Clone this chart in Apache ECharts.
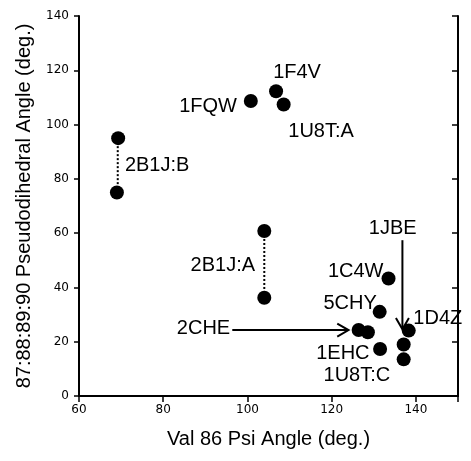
<!DOCTYPE html>
<html>
<head>
<meta charset="utf-8">
<script src="https://cdn.jsdelivr.net/npm/echarts@6/dist/echarts.min.js"></script>
<style>
  html, body { margin: 0; padding: 0; background: #fff; }
  #MainContent { width: 471px; height: 461px; }
</style>
</head>
<body>
<div id="MainContent"></div>
<script>
// points
var pointsX = [69.3, 69.0, 100.8, 106.8, 108.6, 104.0, 104.0, 133.5, 131.4, 126.4, 128.6, 131.5, 138.3, 137.1, 137.1];
var pointsY = [95.0, 75.0, 108.7, 112.3, 107.4, 60.8, 36.2, 43.3, 31.0, 24.3, 23.5, 17.3, 24.1, 19.0, 13.5];

// dotted connectors (2B1J:B and 2B1J:A)
var pairB = [[69.2, 95.0], [69.2, 75.0]];
var pairA = [[104.0, 60.8], [104.0, 36.2]];

// arrows: [x1, y1, x2, y2]
var arrows = [
    [96.4, 24.3, 124.0, 24.3],   // 2CHE
    [136.8, 57.4, 136.8, 24.6]   // 1JBE
];

// annotation text
var labelNames = ['1F4V', '1FQW', '1U8T:A', '2B1J:B', '2B1J:A', '1JBE', '1C4W', '5CHY', '2CHE', '1D4Z', '1EHC', '1U8T:C'];
var labelX = [106.1, 97.5, 109.7, 70.9, 101.8, 134.5, 132.3, 130.7, 95.9, 139.4, 129.0, 133.9];
var labelY = [119.1, 106.8, 97.3, 85.1, 48.2, 61.7, 45.8, 34.1, 24.9, 28.6, 15.7, 7.7];
var labelAlign = ['left', 'right', 'left', 'left', 'right', 'center', 'right', 'right', 'right', 'left', 'right', 'right'];

var FONT = 'Liberation Sans';

function draw() {
    var chart = echarts.init(document.getElementById('MainContent'));

    var pts = pointsX.map(function (x, i) { return [x, pointsY[i]]; });
    var labels = labelNames.map(function (n, i) {
        return { name: n, value: [labelX[i], labelY[i]], label: { align: labelAlign[i] } };
    });

    var axisLine = { show: true, lineStyle: { color: '#000', width: 2 } };
    var tickStyle = { color: '#000', width: 1.5 };

    var option = {
        animation: false,
        backgroundColor: '#fff',
        grid: { left: 79, right: 13, top: 16, bottom: 65 },
        xAxis: [{
            type: 'value', min: 60, max: 150, interval: 20, position: 'bottom',
            name: 'Val 86 Psi Angle (deg.)', nameLocation: 'middle', nameGap: 33,
            nameTextStyle: { fontFamily: FONT, fontSize: 20, color: '#000' },
            axisLine: axisLine,
            axisTick: { show: true, inside: false, length: 5, lineStyle: tickStyle },
            axisLabel: { fontFamily: 'DejaVu Sans', fontSize: 12, color: '#000', margin: 8, showMaxLabel: false },
            splitLine: { show: false }
        }, {
            type: 'value', min: 60, max: 150, interval: 20, position: 'top',
            axisLine: axisLine,
            axisTick: { show: true, inside: true, length: 6, lineStyle: tickStyle },
            axisLabel: { show: false },
            splitLine: { show: false }
        }],
        yAxis: [{
            type: 'value', min: 0, max: 140, interval: 20, position: 'left',
            name: '87:88:89:90 Pseudodihedral Angle (deg.)', nameLocation: 'middle', nameGap: 45,
            nameTextStyle: { fontFamily: FONT, fontSize: 20, color: '#000' },
            axisLine: axisLine,
            axisTick: { show: true, inside: false, length: 5, lineStyle: tickStyle },
            axisLabel: { fontFamily: 'DejaVu Sans', fontSize: 12, color: '#000', margin: 10 },
            splitLine: { show: false }
        }, {
            type: 'value', min: 0, max: 140, interval: 20, position: 'right',
            axisLine: axisLine,
            axisTick: { show: true, inside: true, length: 6, lineStyle: tickStyle },
            axisLabel: { show: false },
            splitLine: { show: false }
        }],
        series: [{
            type: 'line', data: pairB, symbol: 'none', z: 2,
            lineStyle: { color: '#000', width: 2, type: [2, 2] }
        }, {
            type: 'line', data: pairA, symbol: 'none', z: 2,
            lineStyle: { color: '#000', width: 2, type: [2, 2] }
        }, {
            type: 'custom', data: arrows, z: 3,
            renderItem: function (params, api) {
                var p1 = api.coord([api.value(0), api.value(1)]);
                var p2 = api.coord([api.value(2), api.value(3)]);
                var ang = Math.atan2(p2[1] - p1[1], p2[0] - p1[0]);
                var len = 13, spread = Math.PI / 6;
                var a1 = [p2[0] - len * Math.cos(ang - spread), p2[1] - len * Math.sin(ang - spread)];
                var a2 = [p2[0] - len * Math.cos(ang + spread), p2[1] - len * Math.sin(ang + spread)];
                return {
                    type: 'group',
                    children: [{
                        type: 'line',
                        shape: { x1: p1[0], y1: p1[1], x2: p2[0], y2: p2[1] },
                        style: { stroke: '#000', lineWidth: 2 }
                    }, {
                        type: 'polyline',
                        shape: { points: [a1, p2, a2] },
                        style: { stroke: '#000', lineWidth: 2, fill: null }
                    }]
                };
            }
        }, {
            type: 'scatter', data: pts, symbol: 'circle', symbolSize: 14, z: 4,
            itemStyle: { color: '#000', opacity: 1 }
        }, {
            type: 'scatter', data: labels, symbolSize: 0, z: 5,
            itemStyle: { opacity: 1 },
            label: {
                show: true, position: 'inside', verticalAlign: 'middle',
                formatter: '{b}', fontFamily: FONT, fontSize: 20, color: '#000'
            }
        }]
    };

    chart.setOption(option);
}

draw();
</script>
</body>
</html>
